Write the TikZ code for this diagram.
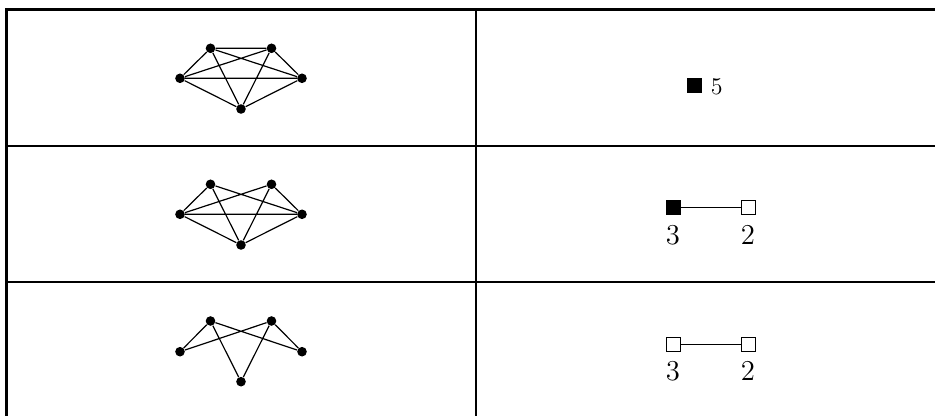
\documentclass[tikz,border=0pt]{standalone}

\tikzset{
  vertex/.style={circle,fill=black,inner sep=0pt,minimum size=4.8pt},
  edge/.style={line width=0.6pt},
  fullbox/.style={draw,fill=black,inner sep=0pt,minimum size=7pt,line width=0.5pt},
  emptybox/.style={draw,fill=white,inner sep=0pt,minimum size=7pt,line width=0.5pt},
  link/.style={line width=0.5pt},
  size/.style={label distance=1.9pt,font=\fontsize{13.5}{16}\selectfont},
}

\begin{document}
\begin{tikzpicture}[x=0.5pt,y=-0.5pt]
\useasboundingbox (0,0) rectangle (935,416);
\clip (0,0) rectangle (935,416);
%tableau%
\draw[line width=1.4pt] (6.8,440) -- (6.8,9.7) -- (960,9.7);
\draw[line width=1pt] (475.7,9.7) -- (475.7,440);
\draw[line width=1pt] (6.8,145.7) -- (960,145.7);
\draw[line width=1pt] (6.8,281.7) -- (960,281.7);
\draw[line width=1pt] (6.8,417.7) -- (960,417.7);

%graphe 1%
\node[vertex] (a1) at (210.5,48.3) {};
\node[vertex] (b1) at (271.5,48.3) {};
\node[vertex] (c1) at (180,78.3) {};
\node[vertex] (d1) at (302,78.3) {};
\node[vertex] (e1) at (241,109) {};
\draw[edge] (a1) -- (b1) (a1) -- (c1) (a1) -- (d1) (a1) -- (e1)
  (b1) -- (c1) (b1) -- (d1) (b1) -- (e1)
  (c1) -- (d1) (c1) -- (e1) (d1) -- (e1);

%graphe 2%
\node[vertex] (a2) at (210.5,184.3) {};
\node[vertex] (b2) at (271.5,184.3) {};
\node[vertex] (c2) at (180,214.3) {};
\node[vertex] (d2) at (302,214.3) {};
\node[vertex] (e2) at (241,245) {};
\draw[edge] (a2) -- (c2) (a2) -- (d2) (a2) -- (e2)
  (b2) -- (c2) (b2) -- (d2) (b2) -- (e2)
  (c2) -- (d2) (c2) -- (e2) (d2) -- (e2);

%graphe 3%
\node[vertex] (a3) at (210.5,321) {};
\node[vertex] (b3) at (271.5,321) {};
\node[vertex] (c3) at (180,351.7) {};
\node[vertex] (d3) at (302,351.7) {};
\node[vertex] (e3) at (241,381.7) {};
\draw[edge] (a3) -- (c3) (a3) -- (d3) (a3) -- (e3)
  (b3) -- (c3) (b3) -- (d3) (b3) -- (e3);

%quotients%
\node[fullbox,label={[label distance=1.2pt,yshift=-0.8pt,font=\fontsize{11.5}{14}\selectfont]right:$5$}] (q1) at (694,85.3) {};

\node[fullbox,label={[size]below:$3$}] (p2) at (673,207.5) {};
\node[emptybox,label={[size]below:$2$}] (r2) at (748,207.5) {};
\draw[link] (p2) -- (r2);

\node[emptybox,label={[size]below:$3$}] (p3) at (673,344) {};
\node[emptybox,label={[size]below:$2$}] (r3) at (748,344) {};
\draw[link] (p3) -- (r3);
\end{tikzpicture}
\end{document}
